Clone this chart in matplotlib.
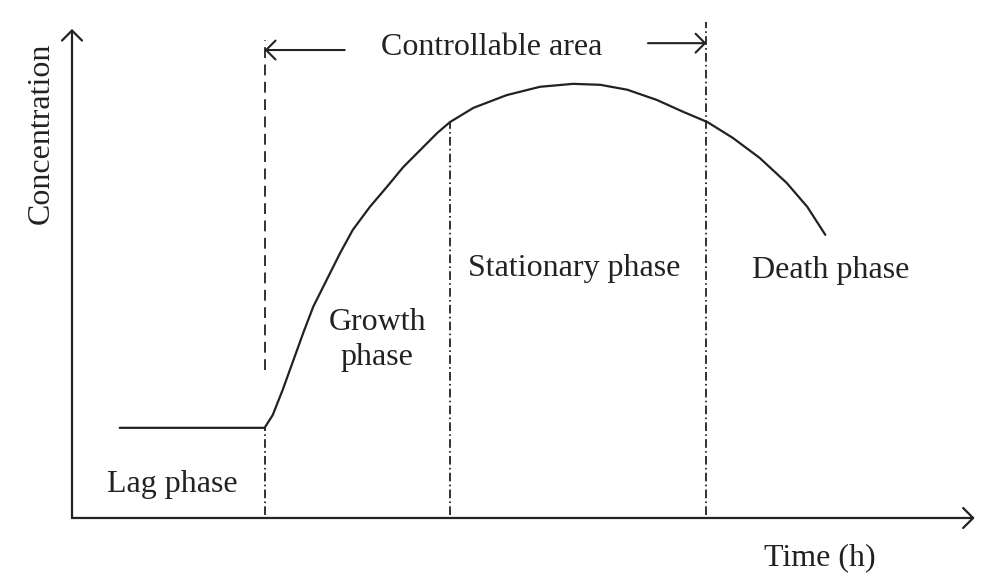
import matplotlib
matplotlib.use("Agg")
import matplotlib.pyplot as plt

# growth curve (time in h, concentration in arbitrary units)
time_h = [0.53, 2.14, 2.23, 2.34, 2.46, 2.57, 2.68, 2.83, 2.98, 3.12,
          3.31, 3.50, 3.68, 3.87, 4.06, 4.20, 4.46, 4.83, 5.20, 5.57,
          5.87, 6.17, 6.50, 6.79, 7.06, 7.34, 7.64, 7.94, 8.17, 8.37]
conc = [1.84, 1.84, 2.10, 2.61, 3.22, 3.78, 4.31, 4.86, 5.41, 5.88,
        6.35, 6.76, 7.16, 7.51, 7.86, 8.08, 8.37, 8.63, 8.80, 8.86,
        8.84, 8.74, 8.53, 8.29, 8.08, 7.76, 7.35, 6.84, 6.35, 5.78]

# phase boundaries
t_growth = 2.14
t_stationary = 4.20
t_death = 7.05

phase_labels = ["Lag phase", "Growth\nphase", "Stationary phase", "Death phase"]

plt.rcParams['font.family'] = ['Liberation Serif', 'DejaVu Serif']

fig = plt.figure(figsize=(9.98, 5.86), dpi=100)
ax = fig.add_axes([0, 0, 1, 1])
ax.set_xlim(-0.8, 10.289)
ax.set_ylim(-1.388, 10.571)
ax.axis('off')

ink = '#222222'
dash = (0, (6, 3.6))
dashdot = (0, (4.8, 1.8, 0.9, 1.8))
head = '->,head_length=0.4,head_width=0.4'

# axes with open arrow heads
ax.annotate('', xy=(10.03, 0), xytext=(0, 0),
            arrowprops=dict(arrowstyle=head, lw=1.6, color=ink,
                            mutation_scale=18, shrinkA=0, shrinkB=0))
ax.annotate('', xy=(0, 9.98), xytext=(0, 0),
            arrowprops=dict(arrowstyle=head, lw=1.6, color=ink,
                            mutation_scale=18, shrinkA=0, shrinkB=0))

# curve
ax.plot(time_h, conc, color=ink, lw=1.6, solid_joinstyle='round',
        solid_capstyle='round')

# boundary lines
ax.plot([t_growth, t_growth], [3.02, 9.76], color=ink, lw=1.3, linestyle=dash)
ax.plot([t_growth, t_growth], [0.06, 1.84], color=ink, lw=1.3, linestyle=dashdot)
ax.plot([t_stationary, t_stationary], [0.06, 8.08], color=ink, lw=1.3, linestyle=dashdot)
ax.plot([t_death, t_death], [0.06, 10.12], color=ink, lw=1.3, linestyle=dashdot)

# controllable area arrows
ax.annotate('', xy=(t_growth, 9.55), xytext=(3.03, 9.55),
            arrowprops=dict(arrowstyle=head, lw=1.5, color=ink,
                            mutation_scale=17, shrinkA=0, shrinkB=0))
ax.annotate('', xy=(t_death, 9.69), xytext=(6.4, 9.69),
            arrowprops=dict(arrowstyle=head, lw=1.5, color=ink,
                            mutation_scale=17, shrinkA=0, shrinkB=0))

fs = 23
ax.text(4.66, 9.61, "Controllable area", ha='center', va='center',
        fontsize=fs, color=ink)

# phase labels
ax.text(1.11, 0.68, phase_labels[0], ha='center', va='center', fontsize=fs, color=ink)
ax.text(3.39, 3.64, phase_labels[1], ha='center', va='center', fontsize=fs,
        color=ink, linespacing=1.27)
ax.text(5.58, 5.1, phase_labels[2], ha='center', va='center', fontsize=fs, color=ink)
ax.text(8.43, 5.06, phase_labels[3], ha='center', va='center', fontsize=fs, color=ink)

# axis titles
ax.text(8.31, -0.82, "Time (h)", ha='center', va='center', fontsize=fs, color=ink)
ax.text(-0.34, 7.86, "Concentration", ha='center', va='center', fontsize=fs,
        color=ink, rotation=90)

fig.savefig("out.png", dpi=100)
